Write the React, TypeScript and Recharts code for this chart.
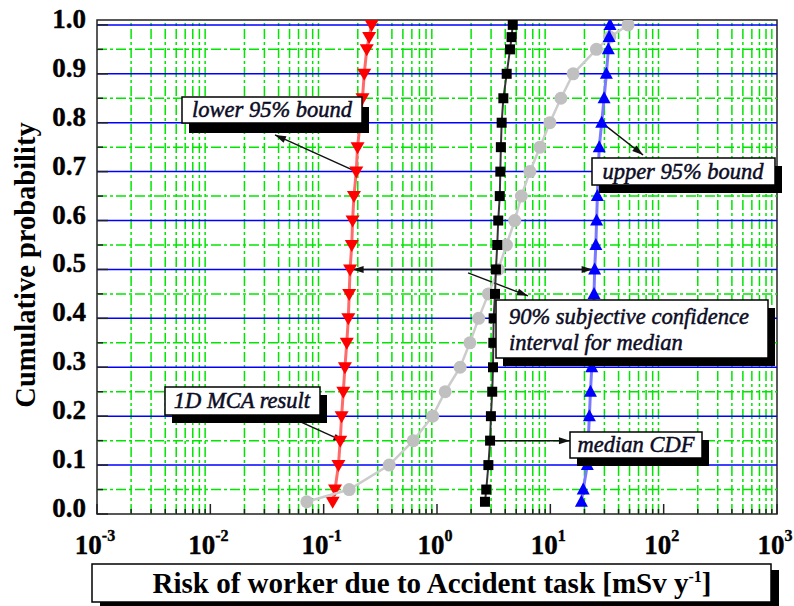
import React from 'react';
import { ScatterChart, Scatter, XAxis, YAxis, ReferenceLine, ReferenceArea } from 'recharts';

// ---------- data ----------
const probabilities = [0.025, 0.05, 0.1, 0.15, 0.2, 0.25, 0.3, 0.35, 0.4, 0.45, 0.5, 0.55, 0.6, 0.65, 0.7, 0.75, 0.8, 0.85, 0.9, 0.95, 0.975, 1.0];
const lowerBoundRisk = [0.12, 0.126, 0.135, 0.14, 0.144, 0.149, 0.154, 0.16, 0.165, 0.168, 0.171, 0.177, 0.18, 0.185, 0.194, 0.199, 0.21, 0.22, 0.228, 0.24, 0.252, 0.265];
const mcaRisk = [0.071, 0.168, 0.379, 0.618, 0.916, 1.18, 1.6, 1.95, 2.33, 2.84, 3.47, 4.1, 4.85, 5.55, 6.6, 8.1, 9.9, 12.4, 15.9, 25.5, 33.5, 48.5];
const medianRisk = [2.65, 2.72, 2.84, 2.94, 2.99, 3.07, 3.12, 3.14, 3.16, 3.25, 3.31, 3.4, 3.47, 3.58, 3.62, 3.66, 3.72, 3.85, 4.12, 4.41, 4.55, 4.66];
const upperBoundRisk = [18.8, 19.5, 21.2, 21.6, 22.1, 22.6, 23.2, 23.6, 24.0, 24.3, 24.6, 25.2, 25.6, 26.0, 26.5, 27.0, 28.4, 29.8, 31.2, 32.5, 33.0, 33.6];

const xMajorTicks = [0.001, 0.01, 0.1, 1, 10, 100, 1000];
const xExponents = ['-3', '-2', '-1', '0', '1', '2', '3'];
const xMinorMultipliers = [2, 3, 4, 5, 6, 7, 8, 9];
const yMajorTicks = [0, 0.1, 0.2, 0.3, 0.4, 0.5, 0.6, 0.7, 0.8, 0.9, 1.0];
const yMinorTicks = [0.05, 0.15, 0.25, 0.35, 0.45, 0.55, 0.65, 0.75, 0.85, 0.95];
const yLabels = ['0.0', '0.1', '0.2', '0.3', '0.4', '0.5', '0.6', '0.7', '0.8', '0.9', '1.0'];

const xMinorTicks = xMajorTicks.slice(0, -1).flatMap((d) =>
  xMinorMultipliers.map((m) => Number((m * d).toPrecision(6)))
);
const xAllTicks = [...xMajorTicks, ...xMinorTicks].sort((a, b) => a - b);
const yAllTicks = [...yMajorTicks, ...yMinorTicks].sort((a, b) => a - b);

const toPoints = (xs: number[]) => xs.map((x, i) => ({ x, y: probabilities[i] }));
const lowerData = toPoints(lowerBoundRisk);
const mcaData = toPoints(mcaRisk);
const medianData = toPoints(medianRisk);
const upperData = toPoints(upperBoundRisk);

// annotation arrows in data coordinates [from, to]
const arrows = [
  { from: { x: 0.194, y: 0.7 }, to: { x: 0.0372, y: 0.775 }, both: false },
  { from: { x: 28.4, y: 0.8 }, to: { x: 65.8, y: 0.734 }, both: false },
  { from: { x: 0.18, y: 0.5 }, to: { x: 23.6, y: 0.5 }, both: true },
  { from: { x: 1.88, y: 0.493 }, to: { x: 6.35, y: 0.446 }, both: false },
  { from: { x: 2.94, y: 0.15 }, to: { x: 14.9, y: 0.15 }, both: false },
  { from: { x: 0.0578, y: 0.192 }, to: { x: 0.152, y: 0.148 }, both: false },
];

const SERIF = '"Liberation Serif", "Times New Roman", serif';

// ---------- shapes ----------
const TriDown = (p: any) => (
  <polygon points={`${p.cx - 7},${p.cy - 5} ${p.cx + 7},${p.cy - 5} ${p.cx},${p.cy + 7}`} fill="#ff0000" />
);
const TriUp = (p: any) => (
  <polygon points={`${p.cx - 6.5},${p.cy + 5} ${p.cx + 6.5},${p.cy + 5} ${p.cx},${p.cy - 7}`} fill="#0000ff" />
);
const Square = (p: any) => <rect x={p.cx - 5} y={p.cy - 5} width={10} height={10} fill="#000" />;
const Dot = (p: any) => <circle cx={p.cx} cy={p.cy} r={6.5} fill="#c0c0c0" />;

const head = (x1: number, y1: number, x2: number, y2: number) => {
  const a = Math.atan2(y2 - y1, x2 - x1);
  const L = 11, W = 3.5;
  const bx = x2 - L * Math.cos(a), by = y2 - L * Math.sin(a);
  const px = -Math.sin(a) * W, py = Math.cos(a) * W;
  return `${x2},${y2} ${bx + px},${by + py} ${bx - px},${by - py}`;
};

const makeArrow = (both: boolean) => (p: any) => (
  <g>
    <line x1={p.x1} y1={p.y1} x2={p.x2} y2={p.y2} stroke="#111" strokeWidth={1.5} />
    <polygon points={head(p.x1, p.y1, p.x2, p.y2)} fill="#111" />
    {both && <polygon points={head(p.x2, p.y2, p.x1, p.y1)} fill="#111" />}
  </g>
);

const XTick = (props: any) => {
  const { x, y, payload } = props;
  const idx = xMajorTicks.indexOf(payload.value);
  if (idx < 0) {
    return <line x1={x} x2={x} y1={y} y2={y - 5} stroke="#222" strokeWidth={1.5} />;
  }
  return (
    <g>
      <line x1={x} x2={x} y1={y} y2={y - 10} stroke="#222" strokeWidth={1.5} />
      <text x={x - 2} y={y + 40} textAnchor="middle" fontFamily={SERIF} fontWeight="bold" style={{ fontSize: 27 }} fill="#000" stroke="#000" strokeWidth={0.4}>
        <tspan>10</tspan>
        <tspan dy={-13} style={{ fontSize: 16 }}>{xExponents[idx]}</tspan>
      </text>
    </g>
  );
};

const YTick = (props: any) => {
  const { x, y, payload } = props;
  const idx = yMajorTicks.indexOf(payload.value);
  const major = idx >= 0;
  return (
    <g>
      <line x1={x} x2={x + (major ? 11 : 6)} y1={y} y2={y} stroke="#222" strokeWidth={1.5} />
      {major && (
        <text x={x - 11} y={y + 3} textAnchor="end" fontFamily={SERIF} fontWeight="bold" style={{ fontSize: 27 }} fill="#000" stroke="#000" strokeWidth={0.4}>
          {yLabels[idx]}
        </text>
      )}
    </g>
  );
};

const Box = ({ x, y, w, h, dx = 7, dy = 8, children }: any) => (
  <g>
    <rect x={x + dx} y={y + dy} width={w} height={h} fill="#000" />
    <rect x={x} y={y} width={w} height={h} fill="#fff" stroke="#000" strokeWidth={1.5} />
    {children}
  </g>
);

const noteStyle = { fontFamily: SERIF, fontStyle: 'italic', fontSize: 22.5, fill: '#0c0c24', stroke: '#0c0c24', strokeWidth: 0.5 } as any;

export default function App() {
  return (
    <div style={{ position: 'absolute', left: 0, top: 0, width: 794, height: 606, background: '#fff' }}>
      <ScatterChart width={794} height={606} margin={{ top: 20, right: 17, bottom: 52, left: 37 }}>
        <XAxis
          type="number"
          dataKey="x"
          scale="log"
          domain={[0.001, 1000]}
          allowDataOverflow
          ticks={xAllTicks}
          interval={0}
          tick={XTick}
          tickLine={false}
          axisLine={false}
          tickSize={0}
          tickMargin={0}
          height={40}
        />
        <YAxis
          type="number"
          dataKey="y"
          domain={[0, 1.01]}
          allowDataOverflow
          ticks={yAllTicks}
          interval={0}
          tick={YTick}
          tickLine={false}
          axisLine={false}
          tickSize={0}
          tickMargin={0}
          width={60}
        />
        {xMinorTicks.map((v) => (
          <ReferenceLine key={'vx' + v} x={v} stroke="#00e600" strokeWidth={1.5} strokeDasharray="10 3 3 3" />
        ))}
        {yMinorTicks.map((v) => (
          <ReferenceLine key={'hm' + v} y={v} stroke="#00e600" strokeWidth={1.5} strokeDasharray="10 3 3 3" />
        ))}
        {yMajorTicks.slice(1).map((v) => (
          <ReferenceLine key={'hM' + v} y={v} stroke="#0000ff" strokeWidth={1.5} />
        ))}
        <ReferenceArea x1={0.001} x2={1000} y1={0} y2={1.01} fill="none" fillOpacity={0} stroke="#222" strokeWidth={1.5} ifOverflow="visible" />
        <Scatter data={lowerData} line={{ stroke: '#ff6a6a', strokeWidth: 3 }} shape={TriDown} isAnimationActive={false} />
        <Scatter data={mcaData} line={{ stroke: '#cccccc', strokeWidth: 2.5 }} shape={Dot} isAnimationActive={false} />
        <Scatter data={medianData} line={{ stroke: '#333333', strokeWidth: 2 }} shape={Square} isAnimationActive={false} />
        <Scatter data={upperData} line={{ stroke: '#7a7aff', strokeWidth: 3 }} shape={TriUp} isAnimationActive={false} />
        {arrows.map((a, i) => (
          <ReferenceLine key={'ar' + i} segment={[a.from, a.to]} shape={makeArrow(a.both)} ifOverflow="visible" />
        ))}
      </ScatterChart>
      <svg width={794} height={606} style={{ position: 'absolute', left: 0, top: 0, pointerEvents: 'none' }}>
        <text transform="translate(35,265) rotate(-90)" textAnchor="middle" fontFamily={SERIF} fontWeight="bold" fontSize={28.5} fill="#000">
          Cumulative probability
        </text>
        <Box x={182} y={97} w={180} h={26} dx={7} dy={10}>
          <text x={272} y={117} textAnchor="middle" {...noteStyle}>lower 95% bound</text>
        </Box>
        <Box x={592} y={158} w={183} h={27}>
          <text x={683} y={179} textAnchor="middle" {...noteStyle}>upper 95% bound</text>
        </Box>
        <Box x={496} y={300} w={272} h={58}>
          <text x={509} y={324} {...noteStyle}>90% subjective confidence</text>
          <text x={509} y={350} {...noteStyle}>interval for median</text>
        </Box>
        <Box x={570} y={432} w={132} h={26}>
          <text x={636} y={452} textAnchor="middle" {...noteStyle}>median CDF</text>
        </Box>
        <Box x={165} y={387} w={155} h={28}>
          <text x={242} y={408} textAnchor="middle" {...noteStyle}>1D MCA result</text>
        </Box>
        <Box x={92} y={564} w={679} h={38} dx={8} dy={6}>
          <text x={432} y={593} textAnchor="middle" fontFamily={SERIF} fontWeight="bold" fontSize={29} fill="#000">
            <tspan>Risk of worker due to Accident task [mSv y</tspan>
            <tspan dy={-11} fontSize={16}>-1</tspan>
            <tspan dy={11}>]</tspan>
          </text>
        </Box>
      </svg>
    </div>
  );
}
